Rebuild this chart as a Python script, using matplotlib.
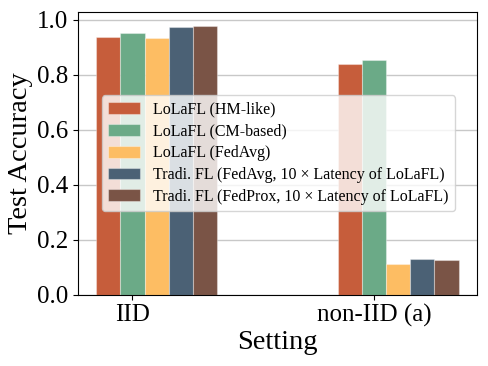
import matplotlib
matplotlib.use("Agg")
import matplotlib.pyplot as plt
import numpy as np

plt.rcParams['font.family'] = ['Liberation Serif', 'DejaVu Serif']
plt.rcParams['mathtext.fontset'] = 'stix'

settings = ["IID", "non-IID (a)"]
series = [
    "LoLaFL (HM-like)",
    "LoLaFL (CM-based)",
    "LoLaFL (FedAvg)",
    "Tradi. FL (FedAvg, 10 × Latency of LoLaFL)",
    "Tradi. FL (FedProx, 10 × Latency of LoLaFL)",
]
hm_like = [0.938, 0.840]
cm_based = [0.951, 0.855]
fedavg = [0.935, 0.111]
tradi_fedavg = [0.973, 0.131]
tradi_fedprox = [0.979, 0.125]
values = [hm_like, cm_based, fedavg, tradi_fedavg, tradi_fedprox]
colors = ["#C65D3B", "#6BAA87", "#FDBD63", "#4B6175", "#7A5446"]
yticks = [0.0, 0.2, 0.4, 0.6, 0.8, 1.0]

fig, ax = plt.subplots(figsize=(4.88, 3.66), dpi=100)
x = np.arange(len(settings))
w = 0.1
for i, (vals, lab, c) in enumerate(zip(values, series, colors)):
    ax.bar(x + (i - 1) * w, vals, w, label=lab, color=c,
           edgecolor=(1, 1, 1, 0.35), linewidth=0.8, zorder=2)

ax.set_xticks(x)
ax.set_xticklabels(settings, fontsize=18)
ax.set_yticks(yticks)
ax.set_yticklabels([f"{t:.1f}" for t in yticks])
ax.tick_params(axis='y', labelsize=18)
ax.set_xlabel("Setting", fontsize=20.5, labelpad=2)
ax.set_ylabel("Test Accuracy", fontsize=20.5, labelpad=3)
ax.yaxis.grid(True, color="#c8c8c8", linewidth=1, zorder=0)
ax.set_axisbelow(True)
ax.legend(loc="upper left", bbox_to_anchor=(0.06, 0.705), fontsize=11.5,
          framealpha=0.8, handlelength=2.0, handleheight=0.75,
          labelspacing=0.36, borderaxespad=0.0, borderpad=0.4)
fig.subplots_adjust(left=0.16, right=0.977, top=0.967, bottom=0.195)
fig.savefig("out.png", dpi=100)
